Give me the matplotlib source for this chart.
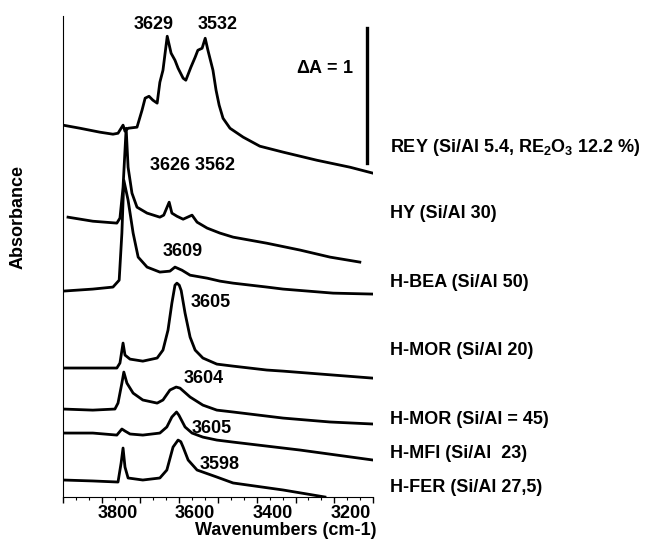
import matplotlib
matplotlib.use("Agg")
import matplotlib.pyplot as plt
import matplotlib.transforms as mtransforms
from matplotlib.ticker import MultipleLocator, AutoMinorLocator

plt.rcParams['font.family'] = ['Liberation Sans', 'DejaVu Sans']
plt.rcParams['font.weight'] = 'bold'
plt.rcParams['axes.labelweight'] = 'bold'
plt.rcParams['mathtext.fontset'] = 'custom'
plt.rcParams['mathtext.rm'] = 'Liberation Sans:bold'
plt.rcParams['mathtext.bf'] = 'Liberation Sans:bold'
plt.rcParams['mathtext.default'] = 'bf'

# spectra (wavenumber cm-1, absorbance offset in A units)
rey_wn = [3900, 3856, 3805, 3771, 3758, 3750, 3745, 3740, 3732, 3709, 3696, 3688,
          3678, 3668, 3657, 3650, 3642, 3631, 3621, 3611, 3603, 3590, 3583, 3570,
          3559, 3552, 3541, 3533, 3526, 3513, 3505, 3497, 3487, 3469, 3435, 3392,
          3332, 3245, 3159, 3100]
rey_a = [2.756, 2.733, 2.704, 2.689, 2.696, 2.733, 2.756, 2.711, 2.733, 2.741, 2.867, 2.956,
         2.970, 2.941, 2.919, 3.074, 3.163, 3.415, 3.289, 3.237, 3.178, 3.104, 3.089, 3.185,
         3.259, 3.311, 3.326, 3.400, 3.311, 3.163, 3.015, 2.904, 2.807, 2.733, 2.667, 2.600,
         2.556, 2.496, 2.444, 2.400]

hy_wn = [3887, 3823, 3761, 3753, 3745, 3737, 3732, 3722, 3709, 3683, 3650, 3640,
         3626, 3619, 3606, 3590, 3567, 3554, 3528, 3495, 3461, 3374, 3288, 3211, 3134]
hy_a = [2.074, 2.044, 2.030, 2.067, 2.296, 2.733, 2.444, 2.252, 2.148, 2.104, 2.074, 2.089,
        2.185, 2.104, 2.081, 2.059, 2.089, 2.037, 1.993, 1.956, 1.926, 1.881, 1.830, 1.778, 1.741]

bea_wn = [3900, 3823, 3771, 3755, 3748, 3743, 3732, 3719, 3706, 3683, 3650, 3624,
          3611, 3593, 3572, 3528, 3495, 3461, 3374, 3332, 3203, 3100]
bea_a = [1.526, 1.541, 1.556, 1.607, 1.956, 2.348, 2.200, 1.956, 1.778, 1.704, 1.667, 1.674,
         1.704, 1.681, 1.644, 1.622, 1.600, 1.585, 1.556, 1.541, 1.511, 1.504]

mor20_wn = [3900, 3823, 3761, 3753, 3745, 3740, 3727, 3694, 3657, 3642, 3629, 3619,
            3611, 3606, 3600, 3595, 3585, 3572, 3559, 3539, 3503, 3461, 3374, 3332, 3203, 3100]
mor20_a = [0.956, 0.956, 0.956, 0.993, 1.141, 1.052, 1.022, 1.007, 1.030, 1.089, 1.237, 1.437,
           1.570, 1.585, 1.570, 1.530, 1.363, 1.185, 1.089, 1.030, 0.985, 0.970, 0.941, 0.933,
           0.904, 0.881]

mor45_wn = [3900, 3823, 3766, 3758, 3748, 3743, 3735, 3719, 3694, 3657, 3642, 3624,
            3608, 3598, 3572, 3539, 3503, 3461, 3332, 3211, 3100]
mor45_a = [0.652, 0.644, 0.652, 0.696, 0.844, 0.926, 0.844, 0.770, 0.719, 0.696, 0.719, 0.793,
           0.815, 0.807, 0.741, 0.681, 0.644, 0.630, 0.585, 0.556, 0.541]

mfi_wn = [3900, 3823, 3761, 3748, 3740, 3727, 3694, 3650, 3632, 3619, 3607, 3601,
          3585, 3567, 3539, 3503, 3461, 3288, 3100]
mfi_a = [0.474, 0.474, 0.459, 0.504, 0.489, 0.467, 0.459, 0.474, 0.519, 0.593, 0.630, 0.607,
         0.519, 0.474, 0.444, 0.422, 0.407, 0.348, 0.274]

fer_wn = [3900, 3823, 3758, 3750, 3745, 3740, 3732, 3694, 3650, 3632, 3616, 3603,
          3596, 3590, 3577, 3554, 3503, 3461, 3332, 3224]
fer_a = [0.126, 0.119, 0.111, 0.252, 0.363, 0.222, 0.141, 0.126, 0.141, 0.200, 0.370, 0.422,
         0.410, 0.370, 0.274, 0.200, 0.148, 0.104, 0.052, 0.0]

spectra = [(rey_wn, rey_a), (hy_wn, hy_a), (bea_wn, bea_a), (mor20_wn, mor20_a),
           (mor45_wn, mor45_a), (mfi_wn, mfi_a), (fer_wn, fer_a)]

sample_names = [r'REY (Si/Al 5.4, RE$_2$O$_3$ 12.2 %)', 'HY (Si/Al 30)', 'H-BEA (Si/Al 50)',
                'H-MOR (Si/Al 20)', 'H-MOR (Si/Al = 45)', 'H-MFI (Si/Al  23)', 'H-FER (Si/Al 27,5)']
name_y = [2.593, 2.104, 1.593, 1.089, 0.578, 0.326, 0.074]

peak_text = ['3629', '3532', '3626 3562', '3609', '3605', '3604', '3605', '3598']
peak_x = [3665, 3501, 3566, 3592, 3518, 3536, 3516, 3497]
peak_y = [3.504, 3.504, 2.459, 1.822, 1.444, 0.881, 0.511, 0.244]

fs = 13

fig = plt.figure(figsize=(6.52, 5.42), dpi=100)
ax = fig.add_axes([0.0966, 0.083, 0.4755, 0.887])

for wn, a in spectra:
    ax.plot(wn, a, color='black', lw=2.0, solid_joinstyle='round')

ax.set_xlim(3900, 3100)
ax.set_ylim(0, 3.563)

# scale bar
ax.plot([3116, 3116], [2.474, 3.474], color='black', lw=2.4)
ax.text(3224, 3.178, r'$\Delta$A = 1', ha='center', va='center', fontsize=fs)

for t, x, y in zip(peak_text, peak_x, peak_y):
    ax.text(x, y, t, ha='center', va='center', fontsize=fs)

trans = mtransforms.blended_transform_factory(ax.transAxes, ax.transData)
for name, y in zip(sample_names, name_y):
    ax.text(1.055, y, name, transform=trans, ha='left', va='center', fontsize=fs, clip_on=False)

ax.spines['top'].set_visible(False)
ax.spines['right'].set_visible(False)
ax.set_yticks([])
ax.xaxis.set_major_locator(MultipleLocator(100))
ax.xaxis.set_minor_locator(AutoMinorLocator(3))
ax.xaxis.set_major_formatter(plt.FuncFormatter(lambda v, p: '%d' % v if int(round(v)) % 200 == 0 else ''))
ax.tick_params(axis='x', which='major', length=4, width=1, direction='out', labelsize=fs, pad=2)
ax.tick_params(axis='x', which='minor', length=2.5, width=0.8, direction='out')
offset = mtransforms.ScaledTranslation(0.16, 0, fig.dpi_scale_trans)
for lab in ax.get_xticklabels():
    lab.set_transform(lab.get_transform() + offset)

ax.set_xlabel('Wavenumbers (cm-1)', fontsize=fs, fontweight='bold')
ax.xaxis.set_label_coords(0.72, -0.051)
fig.text(0.028, 0.6, 'Absorbance', rotation=90, ha='center', va='center', fontsize=fs)

fig.savefig('out.png', dpi=100)
